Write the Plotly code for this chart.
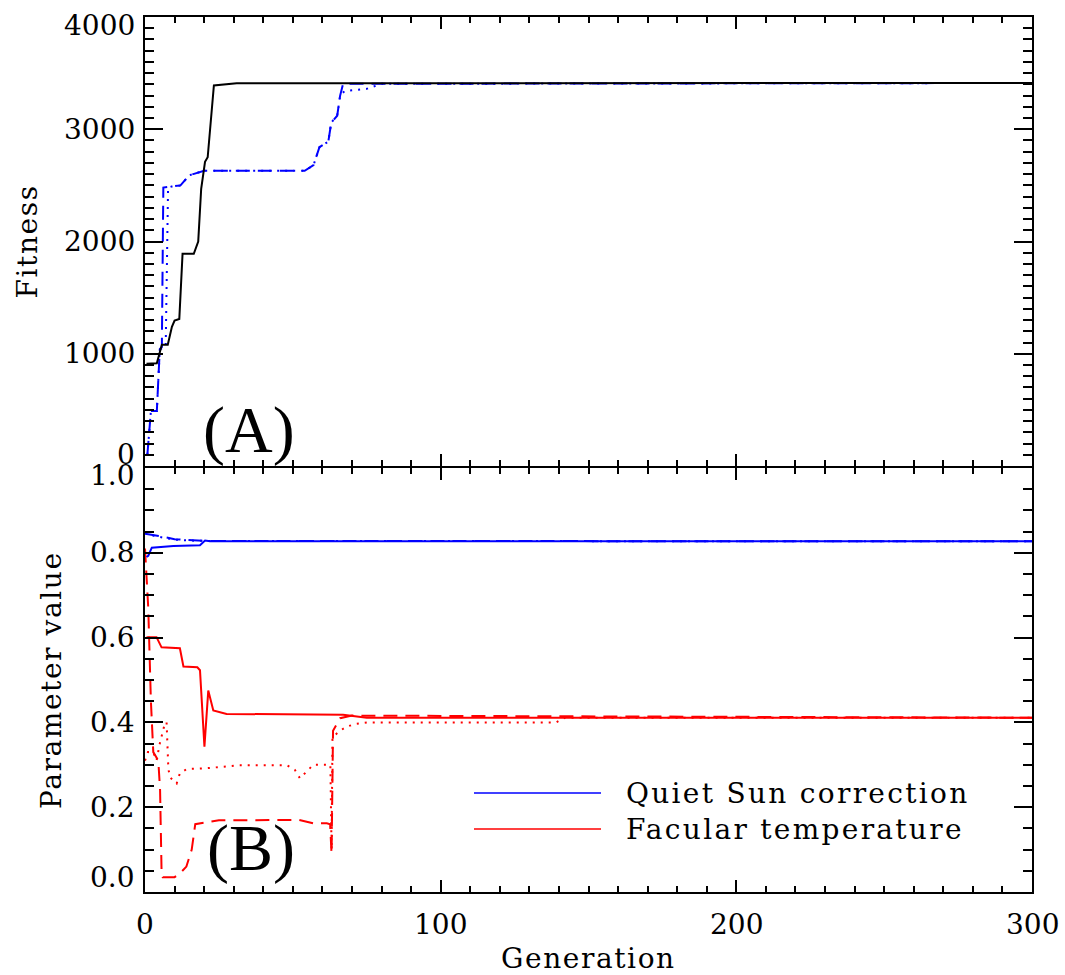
import plotly.graph_objects as go

# ---------------- data ----------------
# Panel A: fitness of the best individual per generation
gen_fit_1 = [0.5, 4, 5.7, 7.7, 9.1, 10, 11.6, 12.7, 16.5, 18, 19, 20.3, 21.2, 23.3, 31, 300]
fit_1 = [910, 915, 1080, 1080, 1240, 1295, 1310, 1890, 1890, 2000, 2470, 2710, 2750, 3390, 3410, 3412]

gen_fit_2 = [0.8, 1.5, 2, 4, 4.5, 5, 5.7, 6.2, 9, 12, 15, 20, 54, 57, 59, 62, 63, 65, 66, 67, 300]
fit_2 = [100, 300, 490, 490, 800, 1040, 1060, 2480, 2490, 2500, 2590, 2630, 2630, 2680, 2840,
         2890, 3060, 3120, 3300, 3405, 3412]

gen_fit_3 = [0.8, 1.5, 2, 4, 4.5, 5, 7, 7.8, 9, 12, 15, 20, 54, 57, 59, 62, 63, 65, 66, 67.5,
             75, 80, 300]
fit_3 = [100, 300, 490, 490, 800, 1040, 1060, 2480, 2490, 2500, 2590, 2630, 2630, 2680, 2840,
         2890, 3060, 3120, 3300, 3340, 3360, 3405, 3412]

# Panel B: parameter values (quiet Sun correction)
gen_qs_1 = [0.5, 1.1, 2.3, 9.6, 18.6, 19.5, 20.3, 22, 300]
qs_1 = [0.79, 0.793, 0.812, 0.816, 0.818, 0.823, 0.829, 0.827, 0.827]
gen_qs_2 = [0, 3, 6, 10, 15, 20, 300]
qs_2 = [0.845, 0.842, 0.838, 0.832, 0.830, 0.828, 0.827]
gen_qs_3 = [0, 3, 6, 10, 15, 20, 300]
qs_3 = [0.848, 0.840, 0.836, 0.831, 0.829, 0.828, 0.827]

# Panel B: parameter values (facular temperature)
gen_ft_1 = [0.5, 1.1, 3.9, 5.6, 11.8, 13, 17.7, 18.6, 20.1, 21.4, 23.1, 27.6, 67, 75, 300]
ft_1 = [0.601, 0.601, 0.601, 0.577, 0.575, 0.532, 0.530, 0.523, 0.343, 0.475, 0.428, 0.420,
        0.418, 0.411, 0.411]

gen_ft_2 = [0, 0.6, 1.1, 2, 2.8, 4.5, 5.1, 5.6, 6, 10, 12, 14, 15.8, 17, 25, 52, 57, 61.5,
            62.6, 63.1, 63.6, 66, 70, 300]
ft_2 = [0.81, 0.74, 0.67, 0.45, 0.33, 0.31, 0.24, 0.05, 0.035, 0.035, 0.045, 0.06, 0.10, 0.16,
        0.169, 0.17, 0.162, 0.162, 0.16, 0.09, 0.38, 0.41, 0.416, 0.411]

gen_ft_3 = [0, 1, 2.8, 3.9, 5, 6.8, 7.3, 7.9, 8.5, 10.7, 11.8, 14.1, 20.9, 32, 48, 50.7, 52.4,
            54.7, 56.9, 61, 62.7, 63.1, 63.4, 65.9, 68.2, 71.6, 75, 139, 142, 300]
ft_3 = [0.31, 0.33, 0.33, 0.31, 0.35, 0.40, 0.40, 0.29, 0.27, 0.256, 0.28, 0.29, 0.292, 0.299,
        0.299, 0.288, 0.268, 0.284, 0.30, 0.30, 0.30, 0.10, 0.365, 0.38, 0.39, 0.397, 0.40,
        0.40, 0.411, 0.411]

fit_tick_vals = [0, 1000, 2000, 3000, 4000]
fit_tick_text = ["0", "1000", "2000", "3000", "4000"]
par_tick_vals = [0.0, 0.2, 0.4, 0.6, 0.8, 1.0]
par_tick_text = ["0.0", "0.2", "0.4", "0.6", "0.8", "1.0"]
gen_tick_vals = [0, 100, 200, 300]
gen_tick_text = ["0", "100", "200", "300"]

legend_names = ["Quiet Sun correction", "Facular temperature"]
legend_colors = ["#0000ff", "#ff0000"]

# ---------------- styling ----------------
FONT = "DejaVu Serif"
DASH = "14px,8px"
DOT = "2px,6px"
LW = 2
PLOT_H = 875
TOP_LOW = 426 / PLOT_H   # lower edge of the fitness panel
BOT_HIGH = 424 / PLOT_H  # upper edge of the parameter panel (frames share one line)

fig = go.Figure()

def add(x, y, color, dash, xa, ya):
    fig.add_trace(go.Scatter(x=x, y=y, mode="lines", xaxis=xa, yaxis=ya,
                             line=dict(color=color, width=LW, dash=dash),
                             showlegend=False, hoverinfo="skip"))

# Panel A
add(gen_fit_2, fit_2, "#0000ff", DASH, "x", "y")
add(gen_fit_3, fit_3, "#0000ff", DOT, "x", "y")
add(gen_fit_1, fit_1, "black", "solid", "x", "y")

# Panel B
add(gen_ft_2, ft_2, "#ff0000", DASH, "x2", "y2")
add(gen_ft_3, ft_3, "#ff0000", DOT, "x2", "y2")
add(gen_ft_1, ft_1, "#ff0000", "solid", "x2", "y2")
add(gen_qs_2, qs_2, "#0000ff", DASH, "x2", "y2")
add(gen_qs_3, qs_3, "#0000ff", DOT, "x2", "y2")
add(gen_qs_1, qs_1, "#0000ff", "solid", "x2", "y2")

axis_common = dict(showgrid=False, zeroline=False, showline=True, linecolor="black",
                   linewidth=2, mirror="allticks", ticks="inside", tickcolor="black",
                   tickwidth=2)

x_common = dict(axis_common, range=[0, 300], tick0=0, dtick=100, ticklen=12,
                minor=dict(dtick=10, ticks="inside", ticklen=6, tickwidth=2,
                           tickcolor="black", showgrid=False))

fig.update_layout(
    width=1065, height=975,
    margin=dict(l=145, r=33, t=17, b=83),
    paper_bgcolor="white", plot_bgcolor="white",
    font=dict(family=FONT, size=28, color="black"),
    showlegend=False,
    xaxis=dict(x_common, domain=[0, 1], anchor="y", matches="x2", showticklabels=False),
    xaxis2=dict(x_common, domain=[0, 1], anchor="y2", showticklabels=False),
    yaxis=dict(axis_common, domain=[TOP_LOW, 1], range=[0, 4000], tick0=0, dtick=1000,
               ticklen=18, showticklabels=False,
               minor=dict(dtick=100, ticks="inside", ticklen=9, tickwidth=2,
                          tickcolor="black", showgrid=False)),
    yaxis2=dict(axis_common, domain=[0, BOT_HIGH], range=[0, 1], tick0=0, dtick=0.2,
                ticklen=18, showticklabels=False,
                minor=dict(dtick=0.05, ticks="inside", ticklen=9, tickwidth=2,
                           tickcolor="black", showgrid=False)),
)

ann = []
# y tick labels; the end labels are nudged inward so they don't collide at the panel seam
for i, (v, t) in enumerate(zip(fit_tick_vals, fit_tick_text)):
    shift = 12 if i == 0 else (-8 if i == len(fit_tick_vals) - 1 else 0)
    ann.append(dict(x=0, xref="paper", y=v, yref="y", text=t, showarrow=False,
                    xanchor="right", yanchor="middle", xshift=-8, yshift=shift))
for i, (v, t) in enumerate(zip(par_tick_vals, par_tick_text)):
    shift = 15 if i == 0 else (-8 if i == len(par_tick_vals) - 1 else 0)
    ann.append(dict(x=0, xref="paper", y=v, yref="y2", text=t, showarrow=False,
                    xanchor="right", yanchor="middle", xshift=-8, yshift=shift))
# x tick labels
for v, t in zip(gen_tick_vals, gen_tick_text):
    ann.append(dict(x=v, xref="x2", y=0, yref="paper", text=t, showarrow=False,
                    xanchor="center", yanchor="middle", yshift=-32))

SP = "<span style='letter-spacing:{}px'>{}</span>"
# axis titles
ann.append(dict(x=0, xref="paper", y=0.5 * (1 + TOP_LOW), yref="paper",
                text=SP.format(1.6, "Fitness"), textangle=-90, showarrow=False,
                xanchor="center", yanchor="middle", xshift=-118))
ann.append(dict(x=0, xref="paper", y=0.5 * BOT_HIGH, yref="paper",
                text=SP.format(1.6, "Parameter value"), textangle=-90, showarrow=False,
                xanchor="center", yanchor="middle", xshift=-94))
ann.append(dict(x=0.5, xref="paper", y=0, yref="paper", text=SP.format(1.6, "Generation"),
                showarrow=False, xanchor="center", yanchor="middle", yshift=-66,
                borderpad=0))

# panel labels
ann.append(dict(x=0.117, xref="paper", y=(892 - 430) / PLOT_H, yref="paper", text="(A)",
                showarrow=False, xanchor="center", yanchor="middle",
                font=dict(family="Liberation Serif", size=66, color="black")))
ann.append(dict(x=0.119, xref="paper", y=(892 - 848) / PLOT_H, yref="paper", text="(B)",
                showarrow=False, xanchor="center", yanchor="middle",
                font=dict(family="Liberation Serif", size=66, color="black")))

# legend (line samples + labels)
shapes = []
legend_y = [(892 - 793) / PLOT_H, (892 - 829) / PLOT_H]
for name, col, ly in zip(legend_names, legend_colors, legend_y):
    shapes.append(dict(type="line", xref="paper", yref="paper", x0=(474 - 145) / 887,
                       x1=(601 - 145) / 887, y0=ly, y1=ly, line=dict(color=col, width=1.5)))
    ann.append(dict(x=(624 - 145) / 887, xref="paper", y=ly, yref="paper",
                    text=SP.format(2.3, name), showarrow=False, xanchor="left",
                    yanchor="middle"))

fig.update_layout(annotations=ann, shapes=shapes)

fig.write_html("out.html")
